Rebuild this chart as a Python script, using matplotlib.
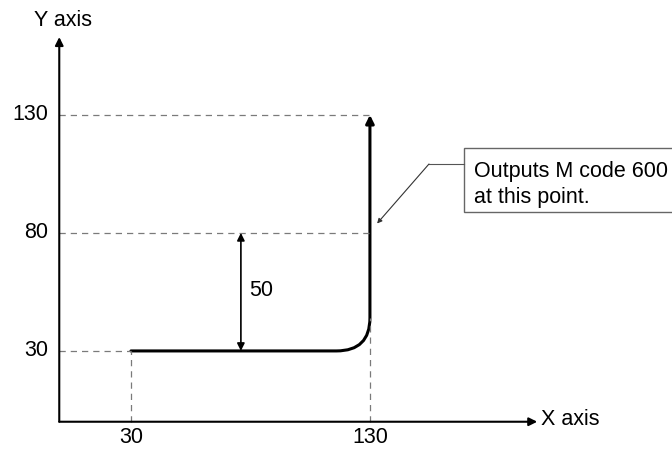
import matplotlib.pyplot as plt
from matplotlib.path import Path
from matplotlib.patches import FancyArrowPatch, Rectangle

plt.rcParams['font.family'] = ['Liberation Sans', 'DejaVu Sans']

# values
x_ticks = [30, 130]
y_ticks = [30, 80, 130]
start = (30, 30)        # tool path start
end = (130, 130)        # tool path end
corner_r = 14           # rounding radius at the corner
dim_x = 76              # position of the "50" dimension arrow
dim_from, dim_to = 80, 30
note_lines = ['Outputs M code 600', 'at this point.']
note_point = (133, 84)  # where the leader arrow points

fig = plt.figure(figsize=(6.72, 4.51), dpi=100)
ax = fig.add_axes([0, 0, 1, 1])
ax.set_xlim(-24.8, 256.4)
ax.set_ylim(-12.4, 178.7)
ax.axis('off')

fs = 15.5
grey = '#7a7a7a'

# axes with arrow heads
ax.annotate('', xy=(200, 0), xytext=(0, 0),
            arrowprops=dict(arrowstyle='-|>', lw=1.5, color='black',
                            mutation_scale=12, shrinkA=0, shrinkB=0))
ax.annotate('', xy=(0, 163), xytext=(0, 0),
            arrowprops=dict(arrowstyle='-|>', lw=1.5, color='black',
                            mutation_scale=12, shrinkA=0, shrinkB=0))
ax.text(201.5, 0.8, 'X axis', fontsize=fs, va='center', ha='left')
ax.text(1.5, 170.2, 'Y axis', fontsize=fs, va='center', ha='center')

# tick labels
for xv in x_ticks:
    ax.text(xv, -11.3, str(xv), fontsize=fs, ha='center', va='bottom')
for yv in y_ticks:
    ax.text(-4.7, yv, str(yv), fontsize=fs, ha='right', va='center')

# dashed guide lines
dash = dict(color=grey, lw=0.9, ls=(0, (5, 4)))
ax.plot([0, end[0]], [end[1], end[1]], **dash)
ax.plot([0, end[0]], [dim_from, dim_from], **dash)
ax.plot([0, start[0]], [start[1], start[1]], **dash)
ax.plot([start[0], start[0]], [0, start[1]], **dash)
ax.plot([end[0], end[0]], [0, start[1] + corner_r], **dash)

# tool path with rounded corner
verts = [start,
         (end[0] - corner_r, start[1]),
         (end[0], start[1]),
         (end[0], start[1] + corner_r),
         end]
codes = [Path.MOVETO, Path.LINETO, Path.CURVE3, Path.CURVE3, Path.LINETO]
path_arrow = FancyArrowPatch(path=Path(verts, codes), arrowstyle='-|>',
                             mutation_scale=12, lw=2.2, color='black')
ax.add_patch(path_arrow)

# 50 dimension
ax.annotate('', xy=(dim_x, dim_to), xytext=(dim_x, dim_from),
            arrowprops=dict(arrowstyle='<|-|>', lw=1.2, color='black',
                            mutation_scale=11, shrinkA=0, shrinkB=0))
ax.text(dim_x + 3.5, (dim_from + dim_to) / 2 + 0.8, str(dim_from - dim_to),
        fontsize=fs, ha='left', va='center')

# callout box
box = Rectangle((169.3, 88.9), 100, 27.1, facecolor='white',
                edgecolor='#666666', lw=1.0)
ax.add_patch(box)
for i, line in enumerate(note_lines):
    ax.text(173.5, 103.7 - 11.0 * i, line, fontsize=fs, ha='left',
            va='baseline')
ax.plot([169.3, 154.7], [109.2, 109.2], color='#555555', lw=0.8)
ax.annotate('', xy=note_point, xytext=(154.7, 109.2),
            arrowprops=dict(arrowstyle='-|>', lw=0.8, color='#333333',
                            mutation_scale=7, shrinkA=0, shrinkB=0))

fig.savefig('out.png', dpi=100)
